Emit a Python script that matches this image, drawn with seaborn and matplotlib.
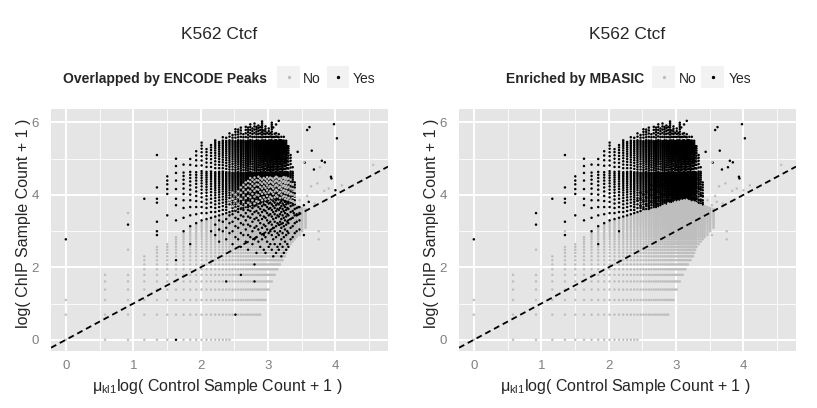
import numpy as np
import pandas as pd
import matplotlib
matplotlib.use("Agg")
import matplotlib.pyplot as plt
import seaborn as sns
from matplotlib.patches import Rectangle

# scale factor applied to log(control count + 1)
mu_kl1 = 0.84

# one entry per control-count column
ctrl_count = list(range(0, 51)) + [52, 54, 56, 58, 61, 64, 68]
# lowest ChIP count in the column
chip_min = [0, 0, 0, 0, 0, 0, 0, 0, 0, 0,
            0, 0, 0, 0, 0, 0, 0, 0, 1, 1,
            1, 1, 1, 1, 1, 1, 1, 1, 1, 1,
            1, 2, 2, 2, 3, 3, 4, 4, 5, 5,
            6, 6, 7, 7, 8, 8, 9, 9, 10, 11,
            12, 13, 14, 15, 16, 17, 19, 21]
# first ChIP count enriched by MBASIC
mb_cut = [3, 6, 6, 10, 13, 14, 17, 19, 22, 24,
          26, 27, 28, 29, 30, 31, 32, 33, 34, 35,
          36, 36, 37, 38, 38, 39, 40, 40, 41, 42,
          43, 44, 44, 45, 46, 46, 47, 47, 48, 48,
          48, 48, 48, 48, 47, 47, 46, 46, 45, 45,
          44, 43, 42, 41, 40, 39, 38, 37]
# highest ChIP count in the column
chip_max = [2, 5, 5, 9, 12, 13, 16, 140, 160, 190,
            230, 200, 220, 250, 240, 280, 270, 320, 300, 340,
            330, 360, 310, 380, 350, 400, 340, 410, 370, 390,
            360, 420, 330, 380, 310, 350, 320, 400, 290, 310,
            300, 280, 310, 260, 280, 250, 270, 230, 250, 220,
            210, 160, 120, 80, 39, 38, 37, 36]
# spacing of the enriched counts below 100, 100-240 and above 240
step_lo = [5, 5, 5, 5, 5, 5, 5, 9, 8, 7,
           6, 5, 5, 4, 4, 4, 3, 4, 3, 3,
           3, 2, 3, 2, 2, 3, 2, 2, 3, 2,
           2, 3, 2, 2, 3, 2, 2, 3, 2, 2,
           3, 2, 2, 3, 2, 3, 3, 4, 3, 4,
           4, 4, 5, 5, 5, 5, 5, 5]
step_mid = [9, 9, 9, 9, 9, 9, 9, 25, 22, 20,
            18, 15, 14, 12, 11, 10, 10, 8, 9, 7,
            8, 6, 8, 7, 6, 8, 9, 7, 6, 8,
            7, 8, 6, 9, 7, 8, 6, 8, 7, 9,
            8, 7, 9, 8, 9, 7, 11, 9, 10, 12,
            12, 12, 14, 14, 10, 10, 10, 10]
step_top = [25, 25, 25, 25, 25, 25, 25, 40, 35, 32,
            30, 28, 26, 25, 24, 24, 22, 26, 20, 23,
            21, 26, 23, 29, 21, 27, 24, 30, 22, 25,
            28, 21, 26, 23, 30, 24, 27, 22, 29, 25,
            26, 30, 23, 28, 25, 31, 27, 24, 30, 26,
            28, 28, 28, 28, 28, 28, 28, 28]
# enriched band where ENCODE has no peak (start and top count, 0 = none)
enc_gap_lo = [0, 0, 0, 0, 0, 0, 0, 0, 0, 0,
              0, 0, 0, 0, 0, 0, 0, 37, 39, 36,
              41, 39, 44, 40, 43, 41, 46, 42, 45, 44,
              49, 46, 50, 47, 52, 48, 51, 49, 55, 50,
              53, 51, 56, 49, 54, 50, 52, 48, 51, 47,
              49, 46, 45, 43, 0, 0, 0, 0]
enc_gap_top = [0, 0, 0, 0, 0, 0, 0, 0, 0, 0,
               0, 0, 0, 0, 0, 0, 0, 55, 60, 62,
               65, 70, 75, 80, 85, 90, 90, 90, 90, 90,
               90, 90, 90, 90, 90, 90, 90, 90, 90, 90,
               90, 90, 90, 90, 90, 90, 90, 90, 90, 90,
               90, 90, 80, 70, 0, 0, 0, 0]
# non-enriched band that ENCODE still overlaps (start count, 0 = none)
enc_hit_lo = [0, 0, 0, 0, 0, 0, 0, 0, 0, 0,
              0, 0, 0, 17, 14, 19, 15, 18, 13, 16,
              15, 12, 17, 14, 11, 16, 13, 15, 10, 14,
              12, 15, 11, 10, 14, 12, 13, 11, 9, 13,
              10, 12, 11, 13, 9, 12, 10, 14, 11, 13,
              12, 15, 16, 18, 19, 20, 0, 0]

# single points: control count, ChIP count, ENCODE overlap, MBASIC enriched
extra_ctrl = [0, 2, 2, 2, 3, 4, 4, 4, 4, 4, 4, 4,
              5, 5, 5, 5, 5, 5, 6, 6, 6, 6, 6, 6, 6, 6, 6, 6,
              8, 12, 16, 19, 21, 27, 27, 38, 40, 42,
              52, 59, 67, 76, 79, 73, 70, 88, 91, 96, 107, 108, 113, 119,
              66, 84, 103, 116, 227, 86, 86, 61, 70, 80, 95, 75, 130,
              60, 66, 55, 66, 72]
extra_chip = [15, 11, 23, 32, 48, 17, 19, 25, 43, 48, 66, 163,
              30, 55, 63, 72, 80, 90, 26, 40, 48, 63, 80, 99, 120, 147, 0, 8,
              13, 19, 4, 1, 5, 4, 7, 350, 380, 420,
              163, 178, 132, 184, 109, 353, 326, 116, 139, 133, 89, 85, 383, 259,
              133, 74, 64, 61, 124, 19, 15, 46, 52, 42, 60, 68, 70,
              38, 40, 32, 17, 44]
extra_encode = [1, 0, 1, 0, 1, 1, 1, 1, 1, 1, 1, 1,
                1, 1, 1, 1, 1, 1, 1, 1, 1, 1, 1, 1, 1, 1, 1, 1,
                1, 1, 1, 1, 1, 1, 1, 1, 1, 1,
                1, 1, 1, 1, 1, 1, 1, 0, 1, 1, 1, 1, 1, 1,
                0, 0, 0, 1, 0, 0, 0, 0, 0, 0, 0, 0, 0,
                1, 1, 1, 1, 1]
extra_mbasic = [1, 0, 1, 1, 1, 1, 0, 1, 1, 1, 1, 1,
                1, 1, 1, 1, 1, 1, 1, 1, 1, 1, 1, 1, 1, 1, 0, 0,
                1, 1, 0, 0, 0, 0, 0, 1, 1, 1,
                1, 1, 1, 1, 1, 1, 1, 1, 1, 1, 1, 1, 1, 1,
                0, 0, 0, 0, 0, 0, 0, 0, 0, 0, 0, 0, 0,
                0, 0, 0, 0, 0]

# build the point table, later entries drawn on top
pts = {}


def put(c, m, e, b):
    pts.pop((c, m), None)
    pts[(c, m)] = (e, b)


for i, c in enumerate(ctrl_count):
    for m in range(chip_min[i], mb_cut[i]):
        put(c, m, 0, 0)
    m = mb_cut[i]
    while m <= chip_max[i]:
        put(c, m, 1, 1)
        if m < 100:
            m += step_lo[i]
        elif m < 240:
            m += step_mid[i]
        else:
            m += step_top[i]

for i, c in enumerate(ctrl_count):
    if enc_hit_lo[i]:
        for m in range(enc_hit_lo[i], mb_cut[i], 6):
            put(c, m, 1, 0)
    if enc_gap_top[i]:
        for m in range(enc_gap_lo[i], enc_gap_top[i], 9):
            put(c, m, 0, 1)

for c, m, e, b in zip(extra_ctrl, extra_chip, extra_encode, extra_mbasic):
    put(c, m, e, b)

yes_no = {0: "No", 1: "Yes"}
df = pd.DataFrame([(c, m, yes_no[e], yes_no[b]) for (c, m), (e, b) in pts.items()],
                  columns=["ctrl", "chip", "encode", "mbasic"])
df["x"] = mu_kl1 * np.log1p(df["ctrl"])
df["y"] = np.log1p(df["chip"])

sns.set_style("darkgrid", {"axes.facecolor": "#E5E5E5", "grid.color": "white"})
plt.rcParams["font.family"] = ["Liberation Sans", "DejaVu Sans"]
plt.rcParams["mathtext.fontset"] = "custom"
plt.rcParams["mathtext.rm"] = "Liberation Sans"

W, H = 817, 408
fig = plt.figure(figsize=(W / 100, H / 100), dpi=100)

palette = {"No": "#BEBEBE", "Yes": "black"}
panels = [(51, "encode", "Overlapped by ENCODE Peaks",
           63, (277.3, 302.5, 326.7, 352.7)),
          (459, "mbasic", "Enriched by MBASIC",
           505.7, (652.3, 678.7, 701.3, 728.7))]

for left, col, leg_title, title_x, keys in panels:
    ax = fig.add_axes([left / W, 57 / H, 337 / W, 242 / H])
    sns.scatterplot(data=df, x="x", y="y", hue=col, palette=palette,
                    s=3.2, linewidth=0, legend=False, ax=ax)
    ax.axline((0, 0), slope=1, color="black", lw=1.3, ls=(0, (3.3, 2.2)), zorder=3)
    ax.set_xlim(-0.22, 4.78)
    ax.set_ylim(-0.31, 6.37)
    ax.set_xticks([0, 1, 2, 3, 4])
    ax.set_yticks([0, 2, 4, 6])
    ax.set_xticks([0.5, 1.5, 2.5, 3.5, 4.5], minor=True)
    ax.set_yticks([1, 3, 5], minor=True)
    ax.grid(which="major", color="white", lw=1.4)
    ax.grid(which="minor", color="white", lw=0.6)
    ax.set_axisbelow(True)
    for sp in ax.spines.values():
        sp.set_visible(False)
    ax.tick_params(which="major", length=3.6, width=0.9, color="#7F7F7F",
                   labelcolor="#7F7F7F", labelsize=9.5)
    ax.tick_params(axis="y", which="major", pad=5)
    ax.tick_params(axis="x", which="major", pad=3)
    ax.tick_params(which="minor", length=0)
    ax.set_xlabel("")
    ax.set_ylabel("")

    cx = left + 168.5
    fig.text(cx / W, 1 - 39.3 / H, "K562 Ctcf", ha="center", va="baseline", fontsize=12.5)
    fig.text((left - 51 + 217) / W, 1 - 386.5 / H,
             "μ$_{\\mathrm{kl1}}$log( Control Sample Count + 1 )",
             ha="center", va="center", fontsize=11.5)
    fig.text((left - 51 + 23.7) / W, 1 - 223 / H, "log( ChIP Sample Count + 1 )",
             rotation=90, ha="center", va="center", fontsize=11.5)

    # legend row above the panel
    fig.text(title_x / W, 1 - 82.7 / H, leg_title, fontweight="bold",
             ha="left", va="baseline", fontsize=10)
    box_no, txt_no, box_yes, txt_yes = keys
    for bx, colr in ((box_no, "#BEBEBE"), (box_yes, "black")):
        fig.patches.append(Rectangle((bx / W, 1 - 88.3 / H), 22.7 / W, 22.3 / H,
                                     transform=fig.transFigure, facecolor="#F2F2F2",
                                     edgecolor="none"))
        fig.lines.append(plt.Line2D([(bx + 11.3) / W], [1 - 77.2 / H],
                                    transform=fig.transFigure, marker="o",
                                    markersize=1.4, color=colr, lw=0))
    fig.text(txt_no / W, 1 - 82.7 / H, "No", ha="left", va="baseline", fontsize=10)
    fig.text(txt_yes / W, 1 - 82.7 / H, "Yes", ha="left", va="baseline", fontsize=10)

fig.savefig("out.png", dpi=100)
